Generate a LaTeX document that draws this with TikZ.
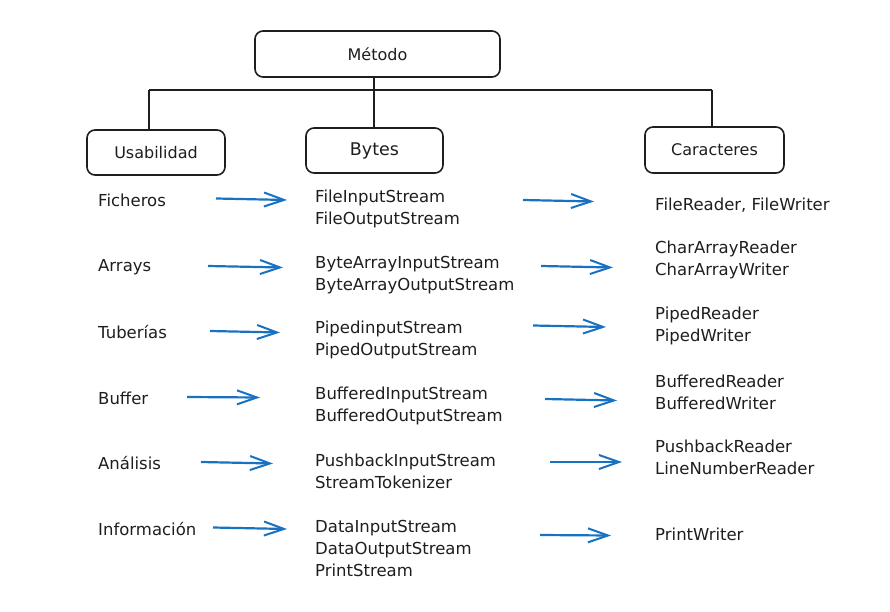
\documentclass[tikz,border=0pt]{standalone}
\usepackage{fontspec}
\setmainfont{DejaVu Sans}
\usetikzlibrary{arrows.meta}
\definecolor{ink}{HTML}{1E1E1E}
\definecolor{eblue}{HTML}{1971C2}
\begin{document}
\begin{tikzpicture}[x=1pt,y=-1pt,
  box/.style={draw=ink,line width=1.6pt,rounded corners=8pt,text=ink,font=\fontsize{16}{19}\selectfont,inner sep=0pt},
  lbl/.style={anchor=west,align=left,text=ink,inner sep=0pt,font=\fontsize{16.5}{22}\selectfont},
  tree/.style={draw=ink,line width=1.8pt},
  arr/.style={draw=eblue,line width=2.2pt,-{Straight Barb[length=20pt,width=14pt,line width=2pt]}}]
\useasboundingbox (0,0) rectangle (890,612);
\fill[white] (0,0) rectangle (890,612);
% header boxes
\node[box,minimum width=245pt,minimum height=46pt] (met) at (377.5,54) {Método};
\node[box,minimum width=138pt,minimum height=45pt] (usa) at (156,152.5) {Usabilidad};
\node[box,minimum width=137pt,minimum height=45pt,font=\fontsize{17.5}{20}\selectfont] (byt) at (374.5,150.5) {Bytes};
\node[box,minimum width=139pt,minimum height=46pt] (car) at (714.5,150) {Caracteres};
% tree
\coordinate (jm) at (374,90);
\coordinate (jl) at (149,90);
\coordinate (jr) at (712,90);
\draw[tree] (jm |- met.south) -- (jm);
\draw[tree] (jl) -- (jr);
\draw[tree] (jl) -- (jl |- usa.north);
\draw[tree] (jm) -- (jm |- byt.north);
\draw[tree] (jr) -- (jr |- car.north);
% left column
\node[lbl] (u1) at (98,200) {Ficheros};
\node[lbl] (u2) at (98,267) {Arrays};
\node[lbl] (u3) at (98,332) {Tuberías};
\node[lbl] (u4) at (98,398) {Buffer};
\node[lbl] (u5) at (98,463) {Análisis};
\node[lbl] (u6) at (98,529) {Información};
% bytes column
\node[lbl] (b1) at (315,209) {FileInputStream\\FileOutputStream};
\node[lbl] (b2) at (315,275) {ByteArrayInputStream\\ByteArrayOutputStream};
\node[lbl] (b3) at (315,340) {PipedinputStream\\PipedOutputStream};
\node[lbl] (b4) at (315,406) {BufferedInputStream\\BufferedOutputStream};
\node[lbl] (b5) at (315,471) {PushbackInputStream\\StreamTokenizer};
\node[lbl] (b6) at (315,548) {DataInputStream\\DataOutputStream\\PrintStream};
% characters column
\node[lbl] (c1) at (655,205) {FileReader, FileWriter};
\node[lbl] (c2) at (655,260) {CharArrayReader\\CharArrayWriter};
\node[lbl] (c3) at (655,326) {PipedReader\\PipedWriter};
\node[lbl] (c4) at (655,392) {BufferedReader\\BufferedWriter};
\node[lbl] (c5) at (655,457) {PushbackReader\\LineNumberReader};
\node[lbl] (c6) at (655,534) {PrintWriter};
% arrow end points
\coordinate (p1s) at (216,198.5); \coordinate (p1e) at (287,200);
\coordinate (p2s) at (208,266);   \coordinate (p2e) at (283,267.5);
\coordinate (p3s) at (210,331);   \coordinate (p3e) at (280,332.5);
\coordinate (p4s) at (187,397);   \coordinate (p4e) at (260,397.5);
\coordinate (p5s) at (201,462);   \coordinate (p5e) at (273,463.5);
\coordinate (p6s) at (213,527.5); \coordinate (p6e) at (287,529);
\coordinate (q1s) at (523,200);   \coordinate (q1e) at (594,201.5);
\coordinate (q2s) at (541,266);   \coordinate (q2e) at (613,267.5);
\coordinate (q3s) at (533,325.5); \coordinate (q3e) at (606,327);
\coordinate (q4s) at (545,399);   \coordinate (q4e) at (617,400.5);
\coordinate (q5s) at (550,462);   \coordinate (q5e) at (622,462);
\coordinate (q6s) at (540,535);   \coordinate (q6e) at (611,535.5);
\foreach \i in {1,...,6}{
  \draw[arr] (p\i s) -- (p\i e);
  \draw[arr] (q\i s) -- (q\i e);
}
\end{tikzpicture}
\end{document}
